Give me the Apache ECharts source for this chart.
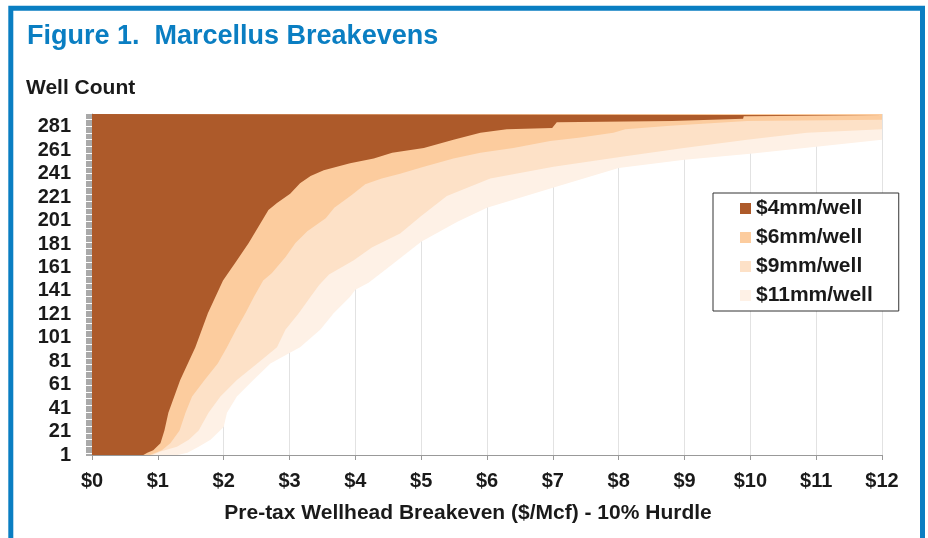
<!DOCTYPE html>
<html>
<head>
<meta charset="utf-8">
<script src="https://cdn.jsdelivr.net/npm/echarts@6/dist/echarts.min.js"></script>
<style>
  html, body { margin: 0; padding: 0; background: #fff; }
  #chart { width: 928px; height: 538px; }
</style>
</head>
<body>
<div id="chart"></div>
<script>
// Well count runs 1..292 along the vertical axis
const wellCount = 292;
const wells = [];
for (let i = 1; i <= wellCount; i++) wells.push(String(i));

// Breakeven ($/Mcf) by well rank: [well number, breakeven]
const cost4mm = [
  [1, 0.78], [3, 0.84], [5, 0.93], [11, 1.04], [22, 1.10], [37, 1.16], [65, 1.34],
  [93, 1.57], [122, 1.76], [150, 1.99], [167, 2.20], [182, 2.38],
  [196, 2.53], [210, 2.68], [216, 2.81], [224, 3.01], [233, 3.16], [239, 3.32],
  [244, 3.52], [250, 3.92], [254, 4.28], [259, 4.56], [263, 5.04], [270, 5.49],
  [276, 5.90], [279, 6.30], [280, 6.99], [285, 7.06], [286, 8.81], [287, 8.81],
  [288, 9.89], [290, 9.90], [291, 12], [292, 12]
];
const cost6mm = [
  [1, 0.88], [2, 0.90], [5, 1.06], [11, 1.19], [22, 1.33], [37, 1.42], [51, 1.52],
  [65, 1.71], [79, 1.91], [93, 2.05], [108, 2.19], [122, 2.33], [136, 2.46],
  [150, 2.60], [156, 2.73], [170, 2.94], [182, 3.09], [192, 3.27], [203, 3.55],
  [212, 3.68], [223, 3.95], [232, 4.15], [237, 4.40], [241, 4.68], [247, 5.04],
  [254, 5.49], [259, 5.90], [263, 6.40], [269, 6.96], [272, 7.42], [276, 7.92],
  [279, 8.10], [282, 8.78], [286, 9.95], [287, 12], [292, 12]
];
const cost9mm = [
  [1, 0.92], [4, 1.04], [8, 1.29], [14, 1.47], [22, 1.62], [37, 1.77], [51, 1.95],
  [65, 2.20], [79, 2.51], [93, 2.81], [108, 2.94], [122, 3.14], [136, 3.32],
  [146, 3.45], [155, 3.60], [167, 3.97], [178, 4.25], [190, 4.68], [205, 5.00],
  [222, 5.39], [237, 6.05], [247, 7.01], [256, 8.10], [263, 8.99], [270, 9.95],
  [276, 10.86], [279, 12], [292, 12]
];
const cost11mm = [
  [1, 1.30], [3, 1.45], [8, 1.62], [14, 1.80], [25, 2.00], [37, 2.05], [51, 2.20],
  [65, 2.45], [79, 2.71], [88, 3.00], [93, 3.16], [108, 3.47], [122, 3.67],
  [136, 3.92], [142, 4.00], [148, 4.20], [161, 4.50], [183, 5.00], [200, 5.55],
  [212, 6.00], [229, 7.00], [246, 8.00], [253, 9.00], [258, 10.00], [264, 11.00],
  [270, 12], [292, 12]
];

const seriesNames = ['$4mm/well', '$6mm/well', '$9mm/well', '$11mm/well'];
const seriesColors = ['#AD5A2A', '#FCCC9E', '#FDE1C7', '#FEF1E6'];
const seriesData = [cost4mm, cost6mm, cost9mm, cost11mm];

const FONT = '"Liberation Sans", Arial, Helvetica, sans-serif';
const BLUE = '#0A7EC2';
const INK = '#1a1a1a';

// Highest cost drawn first so cheaper scenarios sit on top
const series = [3, 2, 1, 0].map(i => ({
  name: seriesNames[i],
  type: 'line',
  data: seriesData[i].map(([n, v]) => [v, String(n)]),
  symbol: 'none',
  lineStyle: { width: 0, color: seriesColors[i] },
  itemStyle: { color: seriesColors[i] },
  areaStyle: { color: seriesColors[i], opacity: 1 },
  silent: true
}));

const chart = echarts.init(document.getElementById('chart'), null, { renderer: 'canvas' });
chart.setOption({
  animation: false,
  backgroundColor: '#fff',
  grid: { left: 92, right: 46, top: 114, bottom: 83, containLabel: false },
  xAxis: {
    type: 'value',
    min: 0, max: 12, interval: 1,
    axisLine: { show: true, lineStyle: { color: '#999', width: 1 } },
    axisTick: { show: true, length: 5, lineStyle: { color: '#999' } },
    splitLine: { show: true, lineStyle: { color: '#e2e2e2', width: 1 } },
    axisLabel: {
      formatter: v => '$' + v,
      fontFamily: FONT, fontSize: 20, fontWeight: 'bold', color: INK, margin: 16
    }
  },
  yAxis: {
    type: 'category',
    data: wells,
    boundaryGap: false,
    axisLine: { show: true, lineStyle: { color: '#aaa' } },
    axisTick: { show: true, interval: 0, length: 6, lineStyle: { color: '#a9a9a9' } },
    splitLine: { show: false },
    axisLabel: {
      interval: 19,
      padding: [5, 0, 0, 0],
      fontFamily: FONT, fontSize: 20, fontWeight: 'bold', color: INK, margin: 21
    }
  },
  legend: {
    data: seriesNames,
    orient: 'vertical',
    left: 713, top: 193,
    padding: [5, 26, 5, 27],
    itemWidth: 11, itemHeight: 11, itemGap: 8,
    icon: 'rect',
    selectedMode: false,
    backgroundColor: '#fff',
    borderColor: '#333', borderWidth: 1,
    textStyle: { fontFamily: FONT, fontSize: 21, fontWeight: 'bold', color: INK, lineHeight: 21 }
  },
  graphic: [
    {
      type: 'rect', silent: true, z: 100,
      shape: { x: 10.8, y: 8.3, width: 911.7, height: 560 },
      style: { fill: 'none', stroke: BLUE, lineWidth: 5 }
    },
    {
      type: 'text', x: 27, y: 37, silent: true,
      style: { text: 'Figure 1.  Marcellus Breakevens', fontFamily: FONT, fontSize: 27,
               fontWeight: 'bold', fill: BLUE, align: 'left', verticalAlign: 'middle' }
    },
    {
      type: 'text', x: 26, y: 88, silent: true,
      style: { text: 'Well Count', fontFamily: FONT, fontSize: 21,
               fontWeight: 'bold', fill: INK, align: 'left', verticalAlign: 'middle' }
    },
    {
      type: 'text', x: 468, y: 513, silent: true,
      style: { text: 'Pre-tax Wellhead Breakeven ($/Mcf) - 10% Hurdle', fontFamily: FONT, fontSize: 21,
               fontWeight: 'bold', fill: INK, align: 'center', verticalAlign: 'middle' }
    }
  ],
  series: series
});
</script>
</body>
</html>
